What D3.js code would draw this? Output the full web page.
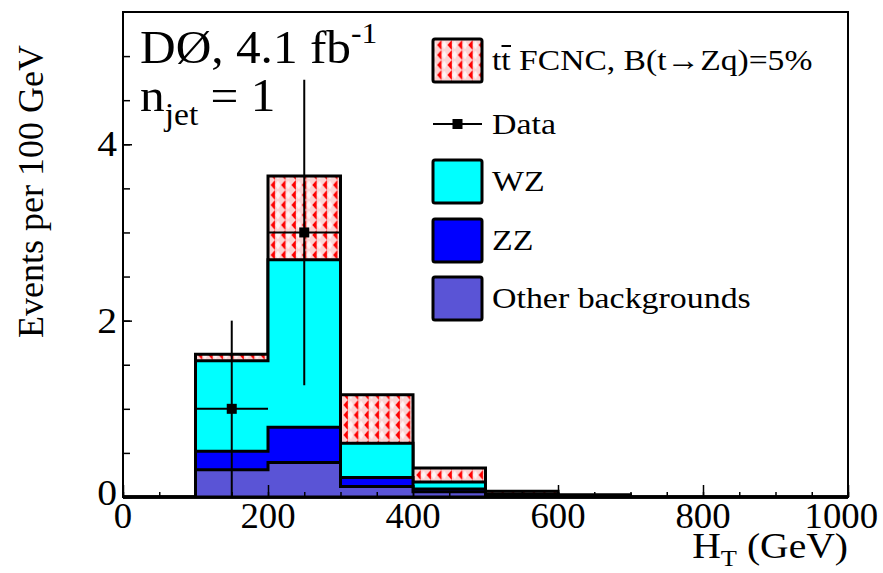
<!DOCTYPE html>
<html>
<head>
<meta charset="utf-8">
<script src="https://cdn.jsdelivr.net/npm/d3@7"></script>
<style>
  body { margin: 0; background: #fff; }
  text { font-family: "Liberation Serif", "DejaVu Serif", serif; fill: #000; }
</style>
</head>
<body>
<div id="chart"></div>
<script>
// bins in GeV (lower edges), 100 GeV wide
var binEdges = [0, 100, 200, 300, 400, 500, 600, 700, 800, 900, 1000];

// stacked backgrounds, events per bin
var otherBkg = [0, 0.31, 0.39, 0.12, 0.06, 0.01, 0.005, 0, 0, 0];
var zzBkg    = [0, 0.21, 0.40, 0.10, 0.03, 0.01, 0.003, 0, 0, 0];
var wzBkg    = [0, 1.025, 1.90, 0.39, 0.08, 0.015, 0.007, 0, 0, 0];
var fcncSig  = [0, 0.075, 0.95, 0.55, 0.16, 0.03, 0.01, 0, 0, 0];

// data points (bin centre, count, error)
var dataX   = [150, 250];
var dataY   = [1, 3];
var dataErr = [1, 1.732];

var xTicks = [0, 200, 400, 600, 800, 1000];
var yTicks = [0, 2, 4];

// svg container
var svgWidth = 883;
var svgHeight = 573;
var stretch = 1.1;   // the original text is a bit wide

var svg = d3.select("#chart")
  .append("svg")
  .attr("width", svgWidth)
  .attr("height", svgHeight);

var x = d3.scaleLinear().domain([0, 1000]).range([123, 848]);
var y = d3.scaleLinear().domain([0, 5.5]).range([497, 12]);

// helper: text placed at (px, py), stretched sideways
function label(px, py, size, anchor, sx) {
  return svg.append("text")
    .attr("transform", "translate(" + px + "," + py + ") scale(" + (sx || stretch) + ",1)")
    .attr("text-anchor", anchor || "start")
    .style("font-size", size + "px");
}

// hatch pattern for the FCNC signal
var defs = svg.append("defs");
var pat = defs.append("pattern")
  .attr("id", "fcnc")
  .attr("patternUnits", "userSpaceOnUse")
  .attr("width", 10.4)
  .attr("height", 10);
pat.append("rect").attr("width", 10.4).attr("height", 10).attr("fill", "#fbd3d3");
pat.append("polygon").attr("points", "7.5,0.5 10.2,5 7.5,9.5 4.8,5").attr("fill", "#fff3f3");
pat.append("polygon").attr("points", "0.3,5 4.6,0 4.6,10").attr("fill", "#ff0000");

// cumulative layers, drawn top first
var cum1 = otherBkg.slice();
var cum2 = cum1.map((v, i) => v + zzBkg[i]);
var cum3 = cum2.map((v, i) => v + wzBkg[i]);
var cum4 = cum3.map((v, i) => v + fcncSig[i]);

var layers = [
  { vals: cum4, fill: "url(#fcnc)" },
  { vals: cum3, fill: "#00ffff" },
  { vals: cum2, fill: "#0000ff" },
  { vals: cum1, fill: "#5a54d6" }
];

function stepPath(vals) {
  var p = "M" + x(0) + "," + y(0);
  vals.forEach(function(v, i) {
    p += "L" + x(binEdges[i]) + "," + y(v) + "L" + x(binEdges[i + 1]) + "," + y(v);
  });
  p += "L" + x(1000) + "," + y(0) + "Z";
  return p;
}

var hist = svg.append("g");
layers.forEach(function(l) {
  hist.append("path")
    .attr("d", stepPath(l.vals))
    .attr("fill", l.fill)
    .attr("stroke", "#000")
    .attr("stroke-width", 3)
    .attr("stroke-linejoin", "miter");
});

// data with error bars
var dg = svg.append("g");
dataX.forEach(function(d, i) {
  dg.append("line")
    .attr("x1", x(d - 50)).attr("x2", x(d + 50))
    .attr("y1", y(dataY[i])).attr("y2", y(dataY[i]))
    .attr("stroke", "#000").attr("stroke-width", 2);
  dg.append("line")
    .attr("x1", x(d)).attr("x2", x(d))
    .attr("y1", y(dataY[i] - dataErr[i])).attr("y2", y(dataY[i] + dataErr[i]))
    .attr("stroke", "#000").attr("stroke-width", 2);
  dg.append("rect")
    .attr("x", x(d) - 5).attr("y", y(dataY[i]) - 5)
    .attr("width", 10).attr("height", 10)
    .attr("fill", "#000");
});

// axes, ticks pointing inside
var xMinor = svg.append("g")
  .attr("transform", "translate(0," + y(0) + ")")
  .call(d3.axisBottom(x).tickValues(d3.range(0, 1001, 50)).tickSize(-5).tickFormat(""));
var xMajor = svg.append("g")
  .attr("transform", "translate(0," + y(0) + ")")
  .call(d3.axisBottom(x).tickValues(xTicks).tickSize(-12).tickFormat(""));
var yMinor = svg.append("g")
  .attr("transform", "translate(" + x(0) + ",0)")
  .call(d3.axisLeft(y).tickValues(d3.range(0, 5.5, 0.5)).tickSize(-7).tickFormat(""));
var yMajor = svg.append("g")
  .attr("transform", "translate(" + x(0) + ",0)")
  .call(d3.axisLeft(y).tickValues(yTicks).tickSize(-9).tickFormat(""));

[xMinor, xMajor, yMinor, yMajor].forEach(function(g) {
  g.select(".domain").remove();
  g.selectAll(".tick line").attr("stroke", "#000").attr("stroke-width", 1.5);
});

// tick labels, placed with the same scales; the last one is kept inside
xTicks.forEach(function(v) {
  if (v === 1000) {
    label(878, 528, 35, "end", 1.05).text(v);
  } else {
    label(x(v), 528, 35, "middle", 1.05).text(v);
  }
});
yTicks.forEach(function(v) {
  label(117, v === 0 ? y(v) + 8 : y(v) + 12, 36, "end").text(v);
});

// frame
svg.append("rect")
  .attr("x", x(0)).attr("y", y(5.5))
  .attr("width", x(1000) - x(0)).attr("height", y(0) - y(5.5))
  .attr("fill", "none").attr("stroke", "#000").attr("stroke-width", 2);

// axis titles
var xt = label(x(1000), 558, 36, "end");
xt.append("tspan").text("H");
xt.append("tspan").attr("dy", 8).style("font-size", "24px").text("T");
xt.append("tspan").attr("dy", -8).text(" (GeV)");

svg.append("text")
  .attr("transform", "translate(43,45) rotate(-90)")
  .attr("text-anchor", "end")
  .style("font-size", "36px")
  .text("Events per 100 GeV");

// experiment label
var t1 = svg.append("text")
  .attr("transform", "translate(140,63) scale(1.05,1)")
  .style("font-size", "47px");
t1.append("tspan").text("DØ, 4.1 fb");
t1.append("tspan").attr("dy", -20).style("font-size", "30px").text("-1");

var t2 = svg.append("text")
  .attr("transform", "translate(140,111) scale(1.05,1)")
  .style("font-size", "47px");
t2.append("tspan").text("n");
t2.append("tspan").attr("dy", 14).style("font-size", "32px").text("jet");
t2.append("tspan").attr("dy", -14).text(" = 1");

// legend
var legNames = ["t t FCNC", "Data", "WZ", "ZZ", "Other backgrounds"];
var legRows = [60, 124, 181, 240, 298];
var legFills = ["url(#fcnc)", null, "#00ffff", "#0000ff", "#5a54d6"];
var leg = svg.append("g");
legRows.forEach(function(ry, i) {
  if (legFills[i]) {
    leg.append("rect")
      .attr("x", 433).attr("y", ry - 21)
      .attr("width", 49).attr("height", 43)
      .attr("rx", 2)
      .attr("fill", legFills[i])
      .attr("stroke", "#000").attr("stroke-width", 3);
  } else {
    leg.append("line")
      .attr("x1", 433).attr("x2", 482).attr("y1", ry).attr("y2", ry)
      .attr("stroke", "#000").attr("stroke-width", 2);
    leg.append("rect")
      .attr("x", 452.5).attr("y", ry - 5).attr("width", 10).attr("height", 10)
      .attr("fill", "#000");
  }
});
var lt0 = label(492, 70, 30, "start", 1.12);
lt0.append("tspan").text("tt FCNC, B(t\u2192Zq)=5%");
// bar over the second t
leg.append("line")
  .attr("x1", 501.5).attr("x2", 511).attr("y1", 46).attr("y2", 46)
  .attr("stroke", "#000").attr("stroke-width", 2);
legNames.slice(1).forEach(function(n, i) {
  label(492, legRows[i + 1] + 10, 30, "start", 1.13).text(n);
});
</script>
</body>
</html>
